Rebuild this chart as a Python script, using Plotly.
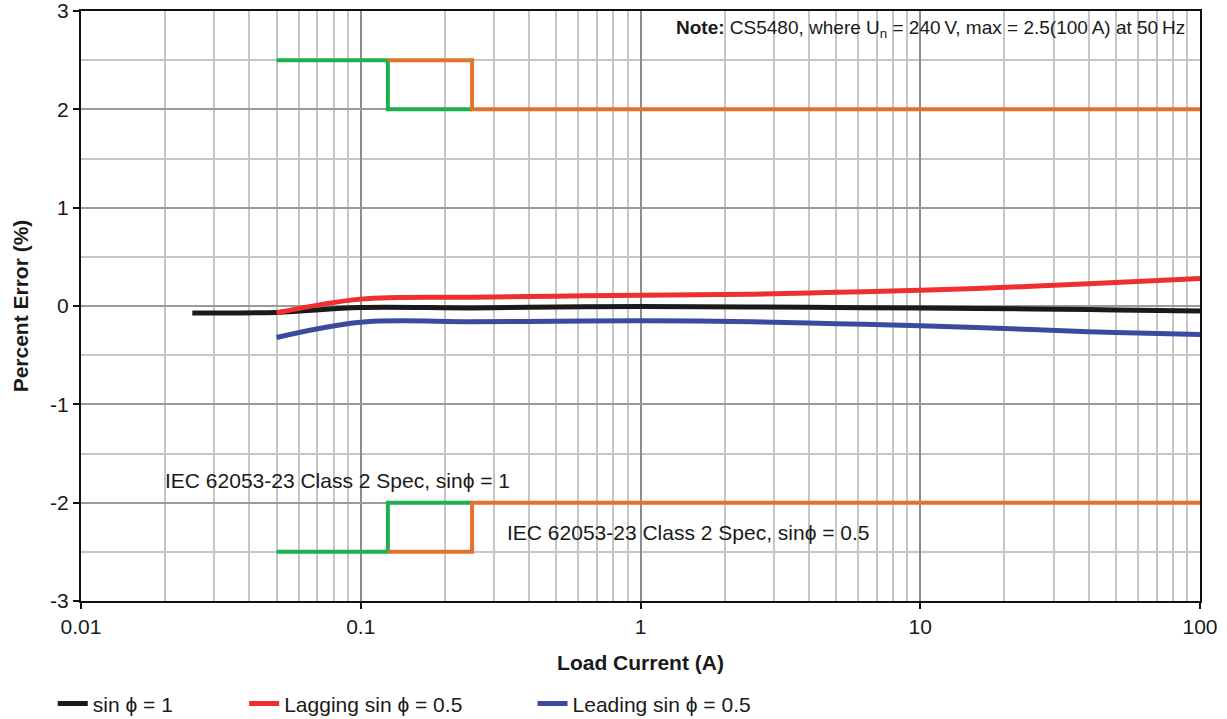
import plotly.graph_objects as go

# Measured percent error vs. load current (A)
current_black = [0.025, 0.05, 0.1, 0.25, 0.5, 1, 2.5, 5, 10, 25, 50, 100]
err_unity = [-0.07, -0.065, -0.015, -0.02, -0.01, -0.005, -0.01, -0.015, -0.02, -0.03, -0.04, -0.05]

current_half = [0.05, 0.1, 0.25, 0.5, 1, 2.5, 5, 10, 25, 50, 100]
err_lagging = [-0.07, 0.07, 0.09, 0.10, 0.11, 0.12, 0.14, 0.16, 0.20, 0.24, 0.28]
err_leading = [-0.32, -0.165, -0.16, -0.155, -0.15, -0.16, -0.18, -0.20, -0.24, -0.27, -0.29]

# IEC 62053-23 Class 2 limits (step envelopes)
spec_unity_x = [0.05, 0.125, 0.25]
spec_unity_upper = [2.5, 2, 2]
spec_unity_lower = [-2.5, -2, -2]
spec_half_x = [0.125, 0.25, 100]
spec_half_upper = [2.5, 2, 2]
spec_half_lower = [-2.5, -2, -2]

x_tickvals = [0.01, 0.1, 1, 10, 100]
x_ticktext = ["0.01", "0.1", "1", "10", "100"]
y_tickvals = [3, 2, 1, 0, -1, -2, -3]
y_ticktext = ["3", "2", "1", "0", "-1", "-2", "-3"]

FONT = "Liberation Sans, Arial, sans-serif"
FS = 21
GREEN = "#1DB04F"
ORANGE = "#E4722F"

fig = go.Figure()

for ys in (spec_unity_upper, spec_unity_lower):
    fig.add_trace(go.Scatter(x=spec_unity_x, y=ys, mode="lines", line_shape="hv",
                             line=dict(color=GREEN, width=4), showlegend=False, hoverinfo="skip"))
for ys in (spec_half_upper, spec_half_lower):
    fig.add_trace(go.Scatter(x=spec_half_x, y=ys, mode="lines", line_shape="hv",
                             line=dict(color=ORANGE, width=4), showlegend=False, hoverinfo="skip"))

fig.add_trace(go.Scatter(x=current_black, y=err_unity, mode="lines", name="sin \u03d5 = 1",
                         line=dict(color="#1A1A1A", width=5, shape="spline"), legend="legend"))
fig.add_trace(go.Scatter(x=current_half, y=err_lagging, mode="lines", name="Lagging sin \u03d5 = 0.5",
                         line=dict(color="#EE2E31", width=5, shape="spline"), legend="legend2"))
fig.add_trace(go.Scatter(x=current_half, y=err_leading, mode="lines", name="Leading sin \u03d5 = 0.5",
                         line=dict(color="#3B4A9E", width=5, shape="spline"), legend="legend3"))

legend_common = dict(orientation="h", yanchor="middle", xanchor="left",
                     xref="container", yref="container", y=0.021,
                     font=dict(family=FONT, size=FS, color="#1A1A1A"),
                     bgcolor="rgba(0,0,0,0)", itemwidth=30)

fig.update_layout(
    width=1227, height=719,
    margin=dict(l=81, r=27, t=11, b=118),
    paper_bgcolor="white", plot_bgcolor="white",
    font=dict(family=FONT, size=FS, color="#1A1A1A"),
    legend=dict(x=0.043, **legend_common),
    legend2=dict(x=0.199, **legend_common),
    legend3=dict(x=0.434, **legend_common),
    xaxis=dict(
        type="log", range=[-2, 2], automargin=False,
        tickvals=x_tickvals, ticktext=x_ticktext, ticklabeloverflow="allow",
        showgrid=True, gridcolor="#8C8C8C", gridwidth=1.5,
        minor=dict(dtick="D1", showgrid=True, gridcolor="#C6C6C6", gridwidth=1.5, ticks=""),
        showline=True, linecolor="#111111", linewidth=2, mirror=True,
        ticks="outside", ticklen=6, tickcolor="#111111", tickwidth=1.5,
        tickfont=dict(size=FS),
        title=dict(text="<b>Load Current (A)</b>", font=dict(size=FS), standoff=18),
        zeroline=False,
    ),
    yaxis=dict(
        range=[-3, 3], automargin=False,
        tickvals=y_tickvals, ticktext=y_ticktext, ticklabeloverflow="allow",
        showgrid=True, gridcolor="#9A9A9A", gridwidth=1.5,
        minor=dict(dtick=0.5, showgrid=True, gridcolor="#C6C6C6", gridwidth=1.5, ticks=""),
        showline=True, linecolor="#111111", linewidth=2, mirror=True,
        ticks="outside", ticklen=6, tickcolor="#111111", tickwidth=1.5,
        tickfont=dict(size=FS),
        title=dict(text="<b>Percent Error (%)</b>", font=dict(size=FS), standoff=16),
        zeroline=False,
    ),
    annotations=[
        dict(text="IEC 62053-23 Class 2 Spec, sin\u03d5 = 1", x=-1.707, y=-1.77,
             xref="x", yref="y", xanchor="left", yanchor="middle", showarrow=False,
             font=dict(size=FS)),
        dict(text="IEC 62053-23 Class 2 Spec, sin\u03d5 = 0.5", x=-0.486, y=-2.30,
             xref="x", yref="y", xanchor="left", yanchor="middle", showarrow=False,
             font=dict(size=FS)),
        dict(text="<b>Note:</b> CS5480, where U<sub>n</sub> = 240\u2009V, max = 2.5(100\u2009A) at 50\u2009Hz",
             x=0.988, y=2.82, xref="paper", yref="y", xanchor="right", yanchor="middle",
             showarrow=False, font=dict(size=19)),
    ],
)

fig.write_html("out.html")
